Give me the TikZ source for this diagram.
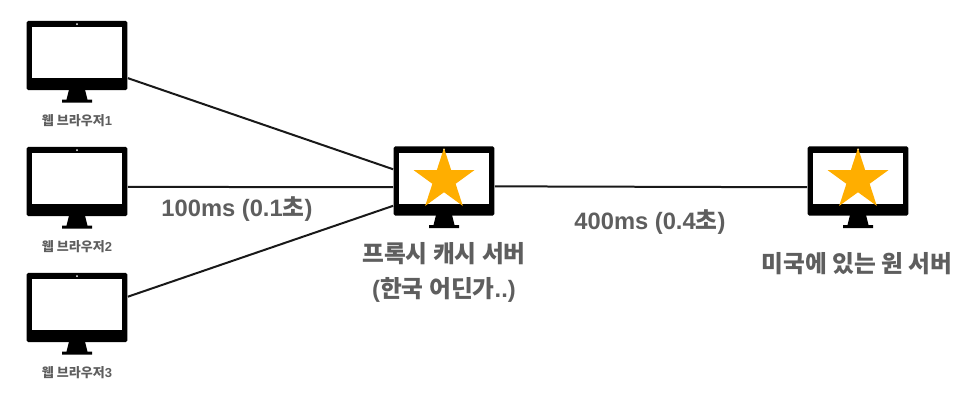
\documentclass[tikz,border=0pt]{standalone}
\usepackage{fontspec}
\setmainfont{Liberation Sans}
\newfontfamily\kr{Noto Sans CJK KR}
\usetikzlibrary{shapes.geometric}
\definecolor{mygray}{RGB}{94,94,94}
\definecolor{myorange}{RGB}{255,174,0}
\tikzset{
	body/.style={
		fill=black,
		rounded corners=1pt,
		inner sep=0pt,
		minimum width=2.02cm,
		minimum height=1.39cm
	},
	screen/.style={
		fill=white,
		inner sep=0pt,
		minimum width=1.8cm,
		minimum height=1.02cm
	},
	starmark/.style={
		star,
		star points=5,
		star point ratio=2.618,
		fill=myorange,
		inner sep=0pt,
		minimum size=1.28cm
	},
	edge/.style={line width=0.04cm, black!90},
	small/.style={text=mygray, font=\fontsize{7.4}{9}\selectfont\bfseries},
	big/.style={text=mygray, align=center, font=\fontsize{13.5}{19.8}\selectfont\bfseries},
	pics/monitor/.style={code={
		\node(-body) at (0,0) [body] {};
		\node(-screen) at (0,-2.7) [screen] {};
		\fill[white] (0,-31.5) circle (1);
		\fill (-8,34) -- (8,34) -- (10.5,44) -- (15,44) -- (15,47) -- (-15,47) -- (-15,44) -- (-10.5,44) -- cycle;
	}}
}

\begin{document}
\begin{tikzpicture}[x=0.02cm,y=-0.02cm]
		\useasboundingbox (0,0) rectangle (964,403);
		
		\pic(browser1) at (77,55.5) {monitor};
		\pic(browser2) at (77,181.5) {monitor};
		\pic(browser3) at (77,307.5) {monitor};
		\pic(proxy) at (444,181) {monitor};
		\pic(origin) at (858,181) {monitor};
		
		\node(star1) at (444,180) [starmark] {};
		\node(star2) at (858,180) [starmark] {};
		
		\node(label1) at (77,121) [small] {{\kr 웹 브라우저}1};
		\node(label2) at (77,247) [small] {{\kr 웹 브라우저}2};
		\node(label3) at (77,373) [small] {{\kr 웹 브라우저}3};
		
		\node(label_proxy) at (444,272.5) [big] {{\kr 프록시 캐시 서버}\\({\kr 한국 어딘가}..)};
		\node(label_origin) at (857,264) [big] {\kr 미국에 있는 원 서버};
		
		\node(time1) at (237,209) [big] {100ms (0.1{\kr 초})};
		\node(time2) at (650,222) [big] {400ms (0.4{\kr 초})};
		
		\draw[edge] (browser1-body.-24.7) -- (proxy-body.167.7);
		\draw[edge] (browser2-body.-6.8) -- (proxy-body.-173.2);
		\draw[edge] (browser3-body.12.8) -- (proxy-body.-154.6);
		\draw[edge] (proxy-body.-6.8) -- (origin-body.-173.2);
		\end{tikzpicture}
\end{document}
